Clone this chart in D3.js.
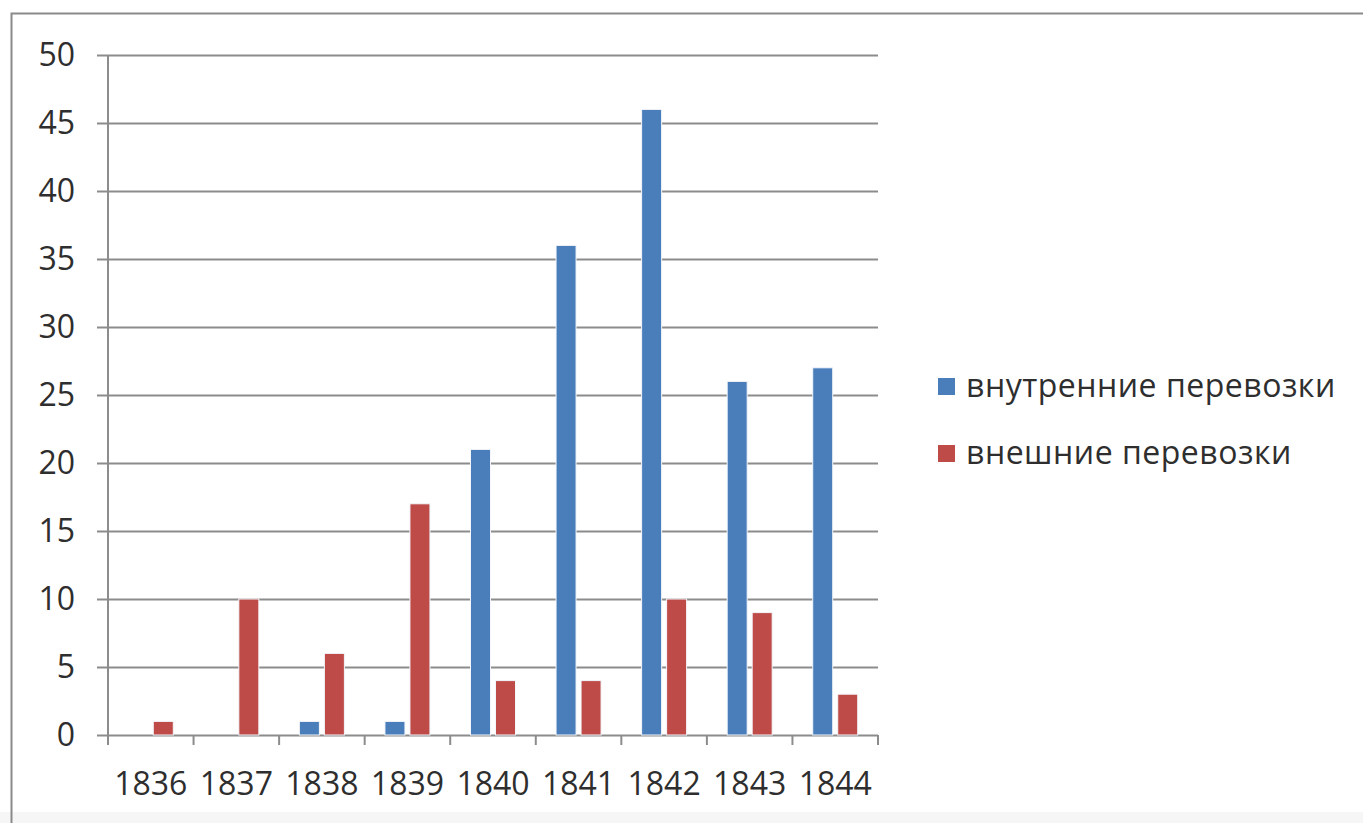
<!DOCTYPE html>
<html>
<head>
<meta charset="utf-8">
<script src="https://cdn.jsdelivr.net/npm/d3@7"></script>
<style>
  html, body { margin: 0; padding: 0; background: #fff; }
  svg { display: block; }
  text { font-family: "Open Sans", "DejaVu Sans", sans-serif; fill: #2e2e2e; }
</style>
</head>
<body>
<svg id="chart" width="1363" height="823"></svg>
<script>
const years = ["1836", "1837", "1838", "1839", "1840", "1841", "1842", "1843", "1844"];
const internalTransport = [0, 0, 1, 1, 21, 36, 46, 26, 27];
const externalTransport = [1, 10, 6, 17, 4, 4, 10, 9, 3];
const seriesNames = ["внутренние перевозки", "внешние перевозки"];
const seriesColors = ["#4a7ebb", "#be4b48"];
const yTicks = [0, 5, 10, 15, 20, 25, 30, 35, 40, 45, 50];

const svg = d3.select("#chart");

// outer frame
svg.append("rect").attr("x", 0).attr("y", 812).attr("width", 1363).attr("height", 11).attr("fill", "#f6f6f6");
svg.append("rect")
  .attr("x", 11.5).attr("y", 13.5).attr("width", 1400).attr("height", 900)
  .attr("fill", "none").attr("stroke", "#8a8a8a").attr("stroke-width", 2);

const plot = { left: 108, right: 878, top: 55, bottom: 735 };

const x = d3.scaleBand().domain(years).range([plot.left, plot.right]).padding(0);
const y = d3.scaleLinear().domain([0, 50]).range([plot.bottom, plot.top]);

// gridlines + y labels
const yAxis = d3.axisLeft(y).tickValues(yTicks).tickSize(-(plot.right - plot.left)).tickPadding(22).tickSizeOuter(0);
const gy = svg.append("g").attr("transform", `translate(${plot.left},0)`).call(yAxis);
gy.select(".domain").remove();
gy.selectAll(".tick line").attr("stroke", "#8c8c8c").attr("stroke-width", 2).attr("x1", -11);
gy.selectAll(".tick text").attr("font-size", 32).attr("fill", "#2e2e2e")
  .attr("font-family", '"Open Sans", sans-serif').attr("x", -33);

// y axis line
svg.append("line").attr("x1", plot.left).attr("x2", plot.left)
  .attr("y1", plot.top).attr("y2", plot.bottom + 10)
  .attr("stroke", "#8c8c8c").attr("stroke-width", 2);

// x axis category boundary ticks
const boundaries = years.map(d => x(d)).concat([plot.right]);
svg.append("g").selectAll("line").data(boundaries).join("line")
  .attr("x1", d => d).attr("x2", d => d)
  .attr("y1", plot.bottom).attr("y2", plot.bottom + 10)
  .attr("stroke", "#8c8c8c").attr("stroke-width", 2);

// bars
const barW = 20, gap = 5;
const x1 = d3.scaleOrdinal().domain([0, 1]).range([-(barW + gap / 2) , gap / 2]);
const data = [];
years.forEach((yr, i) => {
  data.push({ yr, s: 0, v: internalTransport[i] });
  data.push({ yr, s: 1, v: externalTransport[i] });
});
svg.append("g").selectAll("rect").data(data.filter(d => d.v > 0)).join("rect")
  .attr("x", d => x(d.yr) + x.bandwidth() / 2 + x1(d.s))
  .attr("y", d => y(d.v))
  .attr("width", barW)
  .attr("height", d => y(0) - y(d.v))
  .attr("fill", d => seriesColors[d.s])
  .attr("stroke", "#f3f6fb").attr("stroke-width", 1);

// x labels
svg.append("g").selectAll("text").data(years).join("text")
  .attr("x", d => x(d) + x.bandwidth() / 2)
  .attr("y", 795)
  .attr("text-anchor", "middle")
  .attr("font-size", 32)
  .text(d => d);

// legend
const legend = svg.append("g");
seriesNames.forEach((name, i) => {
  const yy = 386 + i * 67;
  legend.append("rect").attr("x", 938).attr("y", yy - 8).attr("width", 17).attr("height", 17)
    .attr("fill", seriesColors[i]);
  legend.append("text").attr("x", 966).attr("y", yy + 11).attr("font-size", 32)
    .attr("letter-spacing", 0.5).text(name);
});
</script>
</body>
</html>
